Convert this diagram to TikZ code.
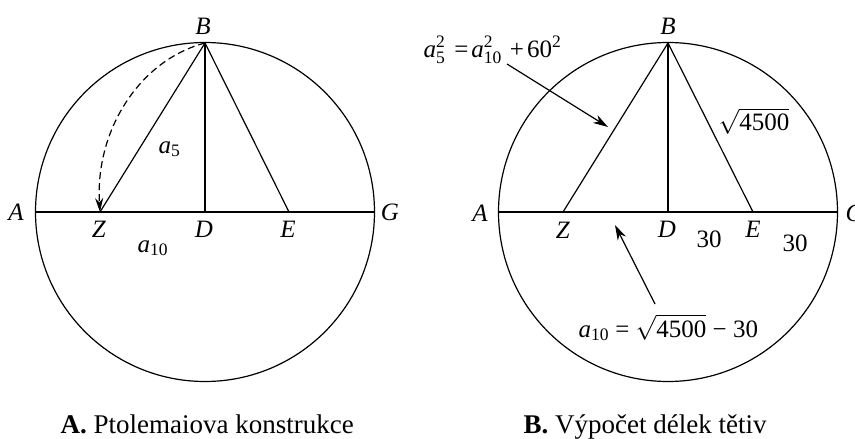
\documentclass[tikz,border=0pt]{standalone}
\usepackage{amsmath}
\usepackage{fontspec}
\setmainfont{Liberation Serif}
\usetikzlibrary{arrows.meta}
\newcommand\ita{\textit{a}}
\tikzset{
  lbl/.style={inner sep=0pt, font=\fontsize{25}{30}\selectfont},
  captxt/.style={inner sep=0pt, anchor=base west, font=\fontsize{27}{32}\selectfont},
  pointer/.style={-{Stealth[length=15pt,width=9pt,inset=4.5pt]}},
  swing/.style={dash pattern=on 7pt off 4pt, -{Stealth[length=14pt,width=8pt,inset=4.5pt]}}
}
\begin{document}
\begin{tikzpicture}[x=1pt,y=-1pt, line width=1.2pt]
\useasboundingbox (0,0) rectangle (855,439);
% ---------- left figure ----------
\coordinate (O1) at (205,212);
\coordinate (B1) at (205,43);
\coordinate (D1) at (205,212);
\coordinate (A1) at (35,212);
\coordinate (G1) at (375,212);
\coordinate (Z1) at (100,212);
\coordinate (E1) at (289,212);
\draw (O1) circle[radius=169.5pt];
\draw (A1) -- (G1);
\draw (B1) -- (D1);
\draw (B1) -- (Z1);
\draw (B1) -- (E1);
\draw[swing] (B1) .. controls +(-65,17) and +(-5,-82) .. (Z1);
\node[lbl] (lB1) at (203,26) {\textit{B}};
\node[lbl] (lA1) at (16,212) {\textit{A}};
\node[lbl] (lG1) at (390,212) {\textit{G}};
\node[lbl] (lZ1) at (99,229) {\textit{Z}};
\node[lbl] (lD1) at (204,229) {\textit{D}};
\node[lbl] (lE1) at (288,229) {\textit{E}};
\node[lbl,anchor=base west] (la5) at (158,153) {$\ita_{\text{5}}$};
\node[lbl,anchor=base west] (la10) at (137,252) {$\ita_{\text{10}}$};
\node[captxt] (capA) at (60,433) {\textbf{A.} Ptolemaiova konstrukce};
% ---------- right figure ----------
\coordinate (O2) at (668,212);
\coordinate (B2) at (668,43);
\coordinate (D2) at (668,212);
\coordinate (A2) at (498,212);
\coordinate (G2) at (838,212);
\coordinate (Z2) at (563,212);
\coordinate (E2) at (753,212);
\draw (O2) circle[radius=169.5pt];
\draw (A2) -- (G2);
\draw (B2) -- (D2);
\draw (B2) -- (Z2);
\draw (B2) -- (E2);
\node[lbl] (lB2) at (668,26) {\textit{B}};
\node[lbl] (lA2) at (480,213) {\textit{A}};
\node[lbl,anchor=west] (lG2) at (845,213) {\textit{G}};
\node[lbl] (lZ2) at (563,230) {\textit{Z}};
\node[lbl] (lD2) at (667,229) {\textit{D}};
\node[lbl] (lE2) at (753,229) {\textit{E}};
\node[lbl] (n30a) at (709,239) {30};
\node[lbl] (n30b) at (795,243) {30};
\node[lbl] (sq) at (754,121) {$\sqrt{\text{4500}}$};
\node[lbl,anchor=base west] (f1) at (423,57) {$\ita^{\text{2}}_{\text{5}}$\hspace{9pt}=\hspace{3pt}$\ita^{\text{2}}_{\text{10}}$\hspace{8pt}+\hspace{3pt}$\text{60}^{\text{2}}$};
\node[lbl,anchor=base west] (f2) at (578,337) {$\ita_{\text{10}}$ = $\sqrt{\text{4500}}$ − 30};
\coordinate (t1) at (507,64);
\coordinate (h1) at (608,127);
\coordinate (t2) at (655,304);
\coordinate (h2) at (615,225);
\draw[pointer] (t1) -- (h1);
\draw[pointer] (t2) -- (h2);
\node[captxt] (capB) at (523,433) {\textbf{B.} Výpočet délek tětiv};
\end{tikzpicture}
\end{document}
